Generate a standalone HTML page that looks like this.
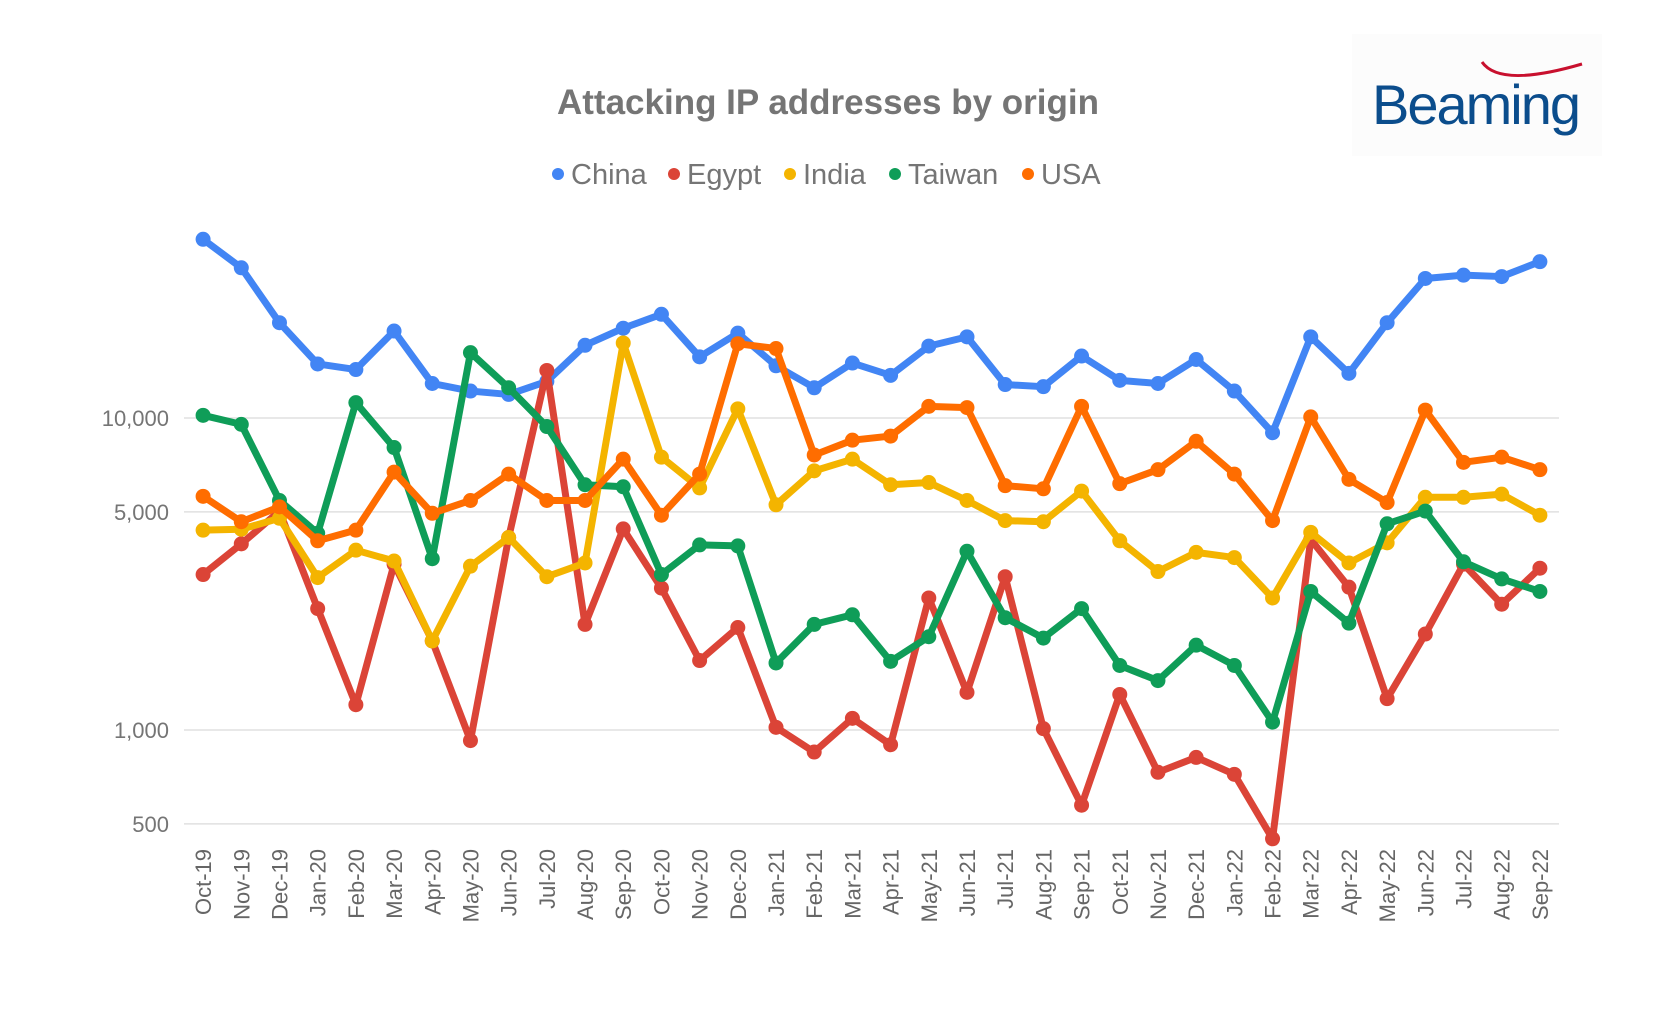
<!DOCTYPE html>
<html><head><meta charset="utf-8"><style>
body{margin:0;background:#fff;}
svg{display:block;font-family:"Liberation Sans",Arial,sans-serif;}
</style></head><body>
<svg id="chart" width="1655" height="1015" viewBox="0 0 1655 1015">
<rect x="0" y="0" width="1655" height="1015" fill="#fff"/>
<text x="828" y="114" text-anchor="middle" font-size="35" font-weight="bold" fill="#757575">Attacking IP addresses by origin</text>
<g>
<rect x="1352" y="34" width="250" height="122" fill="#fcfcfc"/>
<path d="M1482 62 Q1500 88 1582 64" stroke="#c8102e" stroke-width="3" fill="none"/>
<text x="1372" y="124" font-size="56" fill="#0b4d8c" letter-spacing="-2">Beaming</text>
</g>
<g id="legend"></g>
<g id="grid"></g>
<g id="ylabels"></g>
<g id="xlabels"></g>
<g id="series"></g>
</svg>
<script>
const categories=["Oct-19","Nov-19","Dec-19","Jan-20","Feb-20","Mar-20","Apr-20","May-20","Jun-20","Jul-20","Aug-20","Sep-20","Oct-20","Nov-20","Dec-20","Jan-21","Feb-21","Mar-21","Apr-21","May-21","Jun-21","Jul-21","Aug-21","Sep-21","Oct-21","Nov-21","Dec-21","Jan-22","Feb-22","Mar-22","Apr-22","May-22","Jun-22","Jul-22","Aug-22","Sep-22"];
const china=[37400,30300,20200,14900,14300,19000,12900,12200,11900,13100,17100,19400,21500,15700,18700,14700,12500,15000,13700,17000,18200,12800,12600,15800,13200,12900,15400,12200,8970,18200,13900,20200,28000,28700,28400,31700];
const egypt=[3150,3950,5030,2450,1205,3400,1930,925,4140,14200,2180,4410,2850,1670,2130,1020,850,1090,897,2650,1320,3100,1010,574,1300,732,817,721,448,4080,2870,1260,2030,3400,2530,3300];
const india=[4370,4400,4770,3080,3770,3480,1930,3350,4140,3100,3430,17400,7490,5970,10700,5270,6770,7380,6110,6210,5440,4690,4650,5830,4040,3220,3710,3570,2650,4300,3430,3980,5570,5570,5700,4880];
const taiwan=[10200,9540,5440,4270,11200,8040,3540,16200,12500,9390,6110,6020,3150,3920,3890,1640,2180,2340,1660,1990,3740,2290,1970,2450,1610,1440,1870,1610,1060,2780,2200,4580,5030,3460,3050,2780];
const usa=[5610,4650,5190,4040,4370,6710,4950,5440,6610,5440,5440,7380,4880,6610,17300,16700,7610,8490,8750,10900,10800,6070,5930,10900,6160,6830,8420,6610,4690,10080,6360,5360,10600,7210,7490,6830];
const seriesNames=["China","Egypt","India","Taiwan","USA"];
const seriesColors=["#4285F4","#DB4437","#F4B400","#0F9D58","#FF6D00"];
const yTicks=[500,1000,5000,10000];
const yTickLabels=["500","1,000","5,000","10,000"];

const NS="http://www.w3.org/2000/svg";
const left=184,right=1559,band=(right-left)/categories.length;
function xScale(i){return left+(i+0.5)*band;}
function yScale(v){return 418-(Math.log10(v)-4)*312;}
function mk(tag,attrs,parent){const e=document.createElementNS(NS,tag);for(const k in attrs)e.setAttribute(k,attrs[k]);parent.appendChild(e);return e;}

const grid=document.getElementById('grid'),yl=document.getElementById('ylabels'),xl=document.getElementById('xlabels'),sg=document.getElementById('series'),lg=document.getElementById('legend');
yTicks.forEach((t,i)=>{
  const y=yScale(t);
  const l=mk('line',{x1:left,x2:right,y1:y,y2:y,stroke:'#e0e0e0','stroke-width':1.5},grid);
  
  
  const tx=mk('text',{x:169,y:y+8,'text-anchor':'end','font-size':22,fill:'#757575'},yl);
  tx.textContent=yTickLabels[i];
  
  
});
categories.forEach((c,i)=>{
  const x=xScale(i)+8,y=849;
  const tx=mk('text',{x:x,y:y,'text-anchor':'end','font-size':22,fill:'#666',transform:`rotate(-90 ${x} ${y})`},xl);
  tx.textContent=c;
  
  
});
const data=[china,egypt,india,taiwan,usa];
data.forEach((arr,s)=>{
  const g=mk('g',{},sg);
  
  
  const pts=arr.map((v,i)=>xScale(i)+','+yScale(v)).join(' ');
  const pl=mk('polyline',{points:pts,fill:'none',stroke:seriesColors[s],'stroke-width':7,'stroke-linejoin':'round','stroke-linecap':'round'},g);
  
  
  arr.forEach((v,i)=>{
    const c=mk('circle',{cx:xScale(i),cy:yScale(v),r:7.5,fill:seriesColors[s]},g);
    
    
  });
});
const legX=[558,674,790,895,1028];
seriesNames.forEach((n,s)=>{
  const g=mk('g',{},lg);
  
  
  mk('circle',{cx:legX[s],cy:174,r:6,fill:seriesColors[s]},g);
  const t=mk('text',{x:legX[s]+13,y:184,'font-size':29,fill:'#757575'},g);
  t.textContent=n;
});
</script>
</body></html>
